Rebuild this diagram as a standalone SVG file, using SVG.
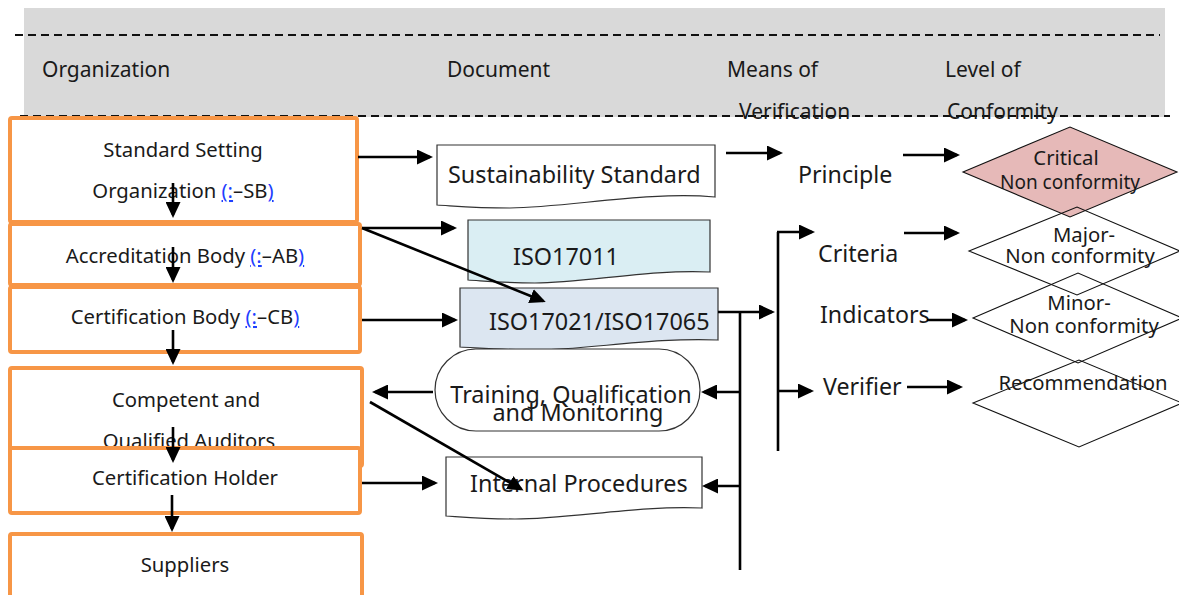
<svg xmlns="http://www.w3.org/2000/svg" width="1179" height="595" viewBox="0 0 1179 595">
<style>
text{font-family:"Noto Sans","Open Sans","DejaVu Sans",sans-serif;fill:#1a1a1a}
.hd{font-size:21px}
.org rect{fill:#fff;stroke:#F79646;stroke-width:4}
.ot{font-size:20.3px;text-anchor:middle}
.lk{fill:#1f3fff;text-decoration:underline}
.doc{stroke:#333;stroke-width:1.2}
.dt{font-size:23.4px}
.mv{font-size:23.2px}
.dia{stroke:#111;stroke-width:1.1}
.lt{font-size:20.3px;text-anchor:middle}
.cn{fill:none;stroke:#000;stroke-width:2.6}
.dash{stroke:#111;stroke-width:2;stroke-dasharray:8 5}
</style>
<defs>
<marker id="ah" markerUnits="userSpaceOnUse" markerWidth="17" markerHeight="15" refX="13" refY="7.5" orient="auto"><path d="M0,0 L16,7.5 L0,15 z" fill="#000"/></marker>
</defs>
<g id="header">
<rect x="24" y="8" width="1141" height="109" fill="#D9D9D9"/>
<line class="dash" x1="15" y1="35" x2="1160" y2="35"/>
<line class="dash" x1="20" y1="116" x2="1170" y2="116"/>
<text class="hd" x="42" y="77">Organization</text>
<text class="hd" x="447" y="77">Document</text>
<text class="hd" x="727" y="77">Means of</text>
<text class="hd" x="739" y="119">Verification</text>
<text class="hd" x="945" y="77">Level of</text>
<text class="hd" x="947" y="119">Conformity</text>
</g>
<g id="n-ssb" class="org">
<rect x="10" y="118" width="347" height="104" rx="2"/>
<text class="ot" x="183" y="157">Standard Setting</text>
<text class="ot" x="183" y="198">Organization <tspan class="lk">(:</tspan>–SB<tspan class="lk">)</tspan></text>
</g>
<g id="n-ab" class="org">
<rect x="10" y="224" width="350" height="61" rx="2"/>
<text class="ot" x="185" y="263">Accreditation Body <tspan class="lk">(:</tspan>–AB<tspan class="lk">)</tspan></text>
</g>
<g id="n-cb" class="org">
<rect x="10" y="287" width="350" height="65" rx="2"/>
<text class="ot" x="185" y="324">Certification Body <tspan class="lk">(:</tspan>–CB<tspan class="lk">)</tspan></text>
</g>
<g id="n-auditors" class="org">
<rect x="10" y="368" width="352" height="98" rx="2"/>
<text class="ot" x="186" y="407">Competent and</text>
<text class="ot" x="189" y="448">Qualified Auditors</text>
</g>
<g id="n-holder" class="org">
<rect x="10" y="448" width="350" height="65" rx="2"/>
<text class="ot" x="185" y="485">Certification Holder</text>
</g>
<g id="n-suppliers" class="org">
<rect x="10" y="534" width="352" height="72" rx="2"/>
<text class="ot" x="185" y="572">Suppliers</text>
</g>
<g id="n-sust">
<path class="doc" fill="#fff" d="M437,145 H715 V197 C650,191 570,207 510,208 C475,208 455,206 437,205 Z"/>
<text class="dt" x="448" y="183">Sustainability Standard</text>
</g>
<g id="n-iso17011">
<path class="doc" fill="#DAEEF3" d="M468,220 H710 V272 C650,269 585,283 535,283 C505,283 485,281 468,280 Z"/>
<text class="dt" x="513" y="265">ISO17011</text>
</g>
<g id="n-iso17021">
<path class="doc" fill="#DCE6F1" d="M460,288 H718 V340 C655,337 585,350 535,350 C505,350 480,348 460,347 Z"/>
<text class="dt" x="489" y="330">ISO17021/ISO17065</text>
</g>
<g id="n-training">
<rect class="doc" fill="#fff" x="435" y="349" width="265" height="82" rx="41"/>
<text class="dt" x="571" y="403" text-anchor="middle">Training, Qualification</text>
<text class="dt" x="578" y="421" text-anchor="middle">and Monitoring</text>
</g>
<g id="n-internal">
<path class="doc" fill="#fff" d="M446,457 H702 V508 C640,505 570,519 515,519 C485,519 462,517 446,516 Z"/>
<text class="dt" x="470" y="492">Internal Procedures</text>
</g>
<g id="n-principle"><text class="mv" x="798" y="183">Principle</text></g>
<g id="n-criteria"><text class="mv" x="818" y="262">Criteria</text></g>
<g id="n-indicators"><text class="mv" x="820" y="323">Indicators</text></g>
<g id="n-verifier"><text class="mv" x="823" y="395">Verifier</text></g>
<g id="n-critical">
<polygon class="dia" fill="#E6B9B8" points="963,172 1070,127 1177,172 1070,217"/>
<text class="lt" x="1066" y="165">Critical</text>
<text class="lt" x="1070" y="189" style="font-size:19px">Non conformity</text>
</g>
<g id="n-major">
<polygon class="dia" fill="none" points="969,251 1077,207 1180,251 1077,295"/>
<text class="lt" x="1084" y="242">Major-</text>
<text class="lt" x="1080" y="263">Non conformity</text>
</g>
<g id="n-minor">
<polygon class="dia" fill="none" points="973,318 1078,273 1182,318 1078,363"/>
<text class="lt" x="1079" y="310">Minor-</text>
<text class="lt" x="1084" y="333">Non conformity</text>
</g>
<g id="n-recommendation">
<polygon class="dia" fill="none" points="973,403 1079,360 1182,403 1079,447"/>
<text class="lt" x="1083" y="390">Recommendation</text>
</g>
<g id="connectors" class="cn">
<path d="M173,183 V215" marker-end="url(#ah)"/>
<path d="M173,247 V280" marker-end="url(#ah)"/>
<path d="M173,330 V362" marker-end="url(#ah)"/>
<path d="M173,427 V460" marker-end="url(#ah)"/>
<path d="M172,495 V529" marker-end="url(#ah)"/>
<path d="M358,157 H430" marker-end="url(#ah)"/>
<path d="M362,228 H454" marker-end="url(#ah)"/>
<path d="M362,228 L543,301" marker-end="url(#ah)"/>
<path d="M362,320 H455" marker-end="url(#ah)"/>
<path d="M433,392 H375" marker-end="url(#ah)"/>
<path d="M370,402 L521,489" marker-end="url(#ah)"/>
<path d="M362,483 H435" marker-end="url(#ah)"/>
<path d="M718,312 H772" marker-end="url(#ah)"/>
<path d="M740,312 V570"/>
<path d="M740,392 H704" marker-end="url(#ah)"/>
<path d="M740,486 H705" marker-end="url(#ah)"/>
<path d="M778,232 V451"/>
<path d="M777,232 H812" marker-end="url(#ah)"/>
<path d="M778,391 H811" marker-end="url(#ah)"/>
<path d="M726,153 H780" marker-end="url(#ah)"/>
<path d="M903,155 H957" marker-end="url(#ah)"/>
<path d="M904,233 H957" marker-end="url(#ah)"/>
<path d="M927,320 H965" marker-end="url(#ah)"/>
<path d="M907,387 H960" marker-end="url(#ah)"/>
</g>
</svg>
